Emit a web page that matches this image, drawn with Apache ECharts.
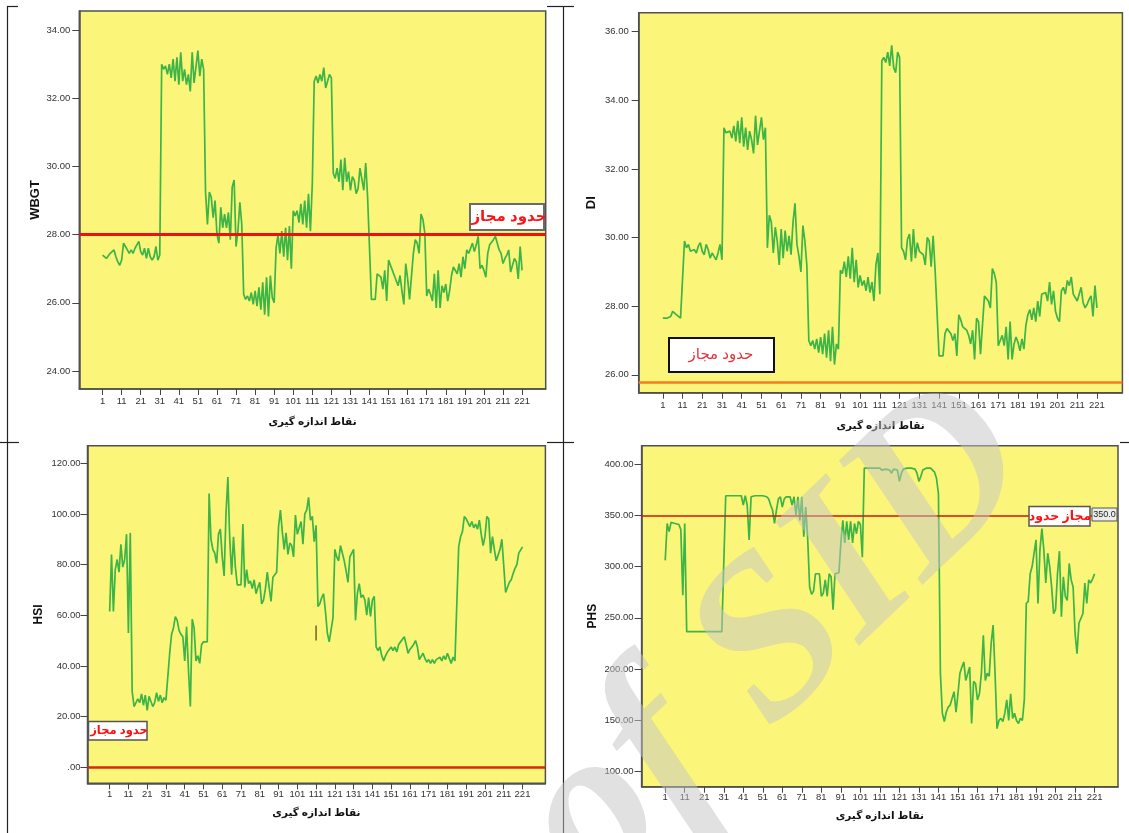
<!DOCTYPE html>
<html><head><meta charset="utf-8">
<script src="https://cdn.jsdelivr.net/npm/echarts@6/dist/echarts.min.js"></script>
<style>html,body{margin:0;padding:0;background:#fff}#c{width:1129px;height:833px}</style>
</head><body><div id="c"></div>
<script>
// ---------------- DATA ----------------
const xTicks = [1,11,21,31,41,51,61,71,81,91,101,111,121,131,141,151,161,171,181,191,201,211,221];
const wbgtTicks = [24,26,28,30,32,34];
const diTicks = [26,28,30,32,34,36];
const hsiTicks = [0,20,40,60,80,100,120];
const phsTicks = [100,150,200,250,300,350,400];

const wbgtLimit = 28;
const diLimit = 25.78;
const hsiLimit = 0;
const phsLimit = 350;
const limitText = 'حدود مجاز';
const limitTextPhs = 'مجاز حدود';
const phsLimitTag = '350.0';
const xName = 'نقاط اندازه گیری';

const wbgt = [
27.40,27.35,27.30,27.30,27.45,27.40,27.55,27.35,27.20,27.10,
27.25,27.75,27.65,27.55,27.45,27.55,27.45,27.60,27.70,27.80,
27.50,27.40,27.60,27.30,27.60,27.35,27.25,27.35,27.65,27.25,
27.40,33.00,32.85,32.95,32.70,33.00,32.60,33.15,32.50,33.20,
32.40,33.35,32.50,32.85,32.40,32.70,32.20,33.35,32.45,32.50,
33.40,32.65,33.15,32.85,29.25,28.30,29.25,29.10,28.50,29.00,
28.00,27.75,28.80,28.20,28.60,28.20,28.65,27.85,29.40,29.60,
27.65,28.10,28.95,28.30,26.25,26.10,26.20,26.05,26.30,25.95,
26.35,25.90,26.45,25.80,26.60,25.65,26.75,25.60,26.80,26.15,
26.00,27.60,28.00,27.45,28.10,27.35,28.20,27.25,28.25,27.00,
28.70,28.55,28.70,28.35,28.90,28.30,29.00,28.20,29.20,28.10,
29.50,32.50,32.65,32.45,32.70,32.50,32.90,32.30,32.25,32.70,
32.60,29.80,29.65,29.95,29.55,30.20,29.30,30.25,29.55,29.85,
29.30,29.70,29.60,29.20,29.35,29.95,30.00,29.30,30.10,29.10,
29.05,26.10,26.10,26.10,26.85,26.90,26.75,26.40,26.95,26.05,
27.25,27.10,26.95,26.80,26.75,26.50,26.80,26.35,25.95,27.15,
26.70,26.10,26.10,27.45,27.85,27.75,27.45,28.60,28.45,28.05,
26.20,26.40,26.25,26.05,26.85,25.85,26.95,25.85,26.50,26.30,
26.55,26.05,26.35,26.80,27.05,27.00,26.85,27.15,26.75,27.35,
27.00,27.55,27.45,27.60,27.75,27.50,27.70,27.95,27.00,27.10,
26.95,26.75,27.45,27.70,27.65,27.85,27.95,27.90,27.55,27.45,
27.15,27.30,27.40,27.55,26.90,27.10,27.30,27.20,26.70,27.65,
26.95];

const di = [
27.65,27.70,27.65,27.60,27.70,27.85,27.85,27.75,27.70,27.65,
27.65,29.90,29.70,29.80,29.60,29.55,29.65,29.55,29.75,29.85,
29.60,29.50,29.80,29.65,29.40,29.55,29.45,29.35,29.55,29.80,
29.35,33.20,33.05,33.00,33.10,32.90,33.25,32.80,33.40,32.75,
33.50,32.65,33.20,32.55,33.10,32.85,32.45,33.55,32.70,32.75,
33.50,32.85,33.20,29.70,30.65,30.45,29.55,30.30,29.90,29.20,
30.25,29.40,30.20,29.60,30.05,29.50,30.45,31.00,29.80,29.45,
29.00,30.35,29.90,29.20,27.00,26.85,27.00,26.75,27.05,26.65,
27.10,26.60,27.20,26.50,27.30,26.40,27.40,26.30,26.90,26.75,
29.05,28.95,29.30,28.85,29.45,28.80,29.70,28.70,29.35,28.55,
28.90,28.60,28.75,28.45,28.85,28.40,28.70,28.15,29.20,29.55,
28.35,35.15,35.25,35.10,35.40,35.00,35.60,34.95,34.80,35.40,
35.25,29.70,29.60,29.35,29.95,30.10,29.30,30.25,29.40,29.85,
29.60,29.65,29.50,29.20,30.00,29.90,29.15,30.05,29.05,29.05,
26.55,26.55,26.55,27.20,27.35,27.30,27.20,27.00,27.20,26.55,
27.75,27.60,27.40,27.35,27.30,27.15,26.90,27.30,26.45,27.65,
27.55,26.60,26.60,28.30,28.35,28.15,27.95,29.10,28.95,28.70,
26.85,27.00,27.15,26.85,27.40,26.45,27.55,26.45,26.90,27.10,
26.95,26.70,27.05,26.75,27.45,27.75,27.90,27.60,27.95,27.55,
28.15,27.70,28.35,28.30,28.40,28.15,28.70,28.05,28.45,27.85,
27.65,27.55,28.45,28.55,28.35,28.75,28.60,28.85,28.35,28.30,
28.15,28.35,28.55,28.10,27.95,28.05,28.20,28.30,27.70,28.60,
27.95];

const hsi = [
61.5,84.0,61.5,78.0,82.0,77.0,88.0,79.0,82.0,92.0,
53.0,92.5,30.0,24.0,24.5,27.0,25.5,29.0,24.5,28.5,
22.5,28.0,26.0,24.0,25.5,29.5,26.0,28.5,25.5,27.5,
26.5,27.0,45.0,52.5,55.0,59.5,58.0,54.0,52.5,51.5,
42.0,55.5,38.5,24.0,58.5,55.0,42.0,44.0,41.0,48.5,
49.5,50.0,49.5,108.0,90.0,86.0,84.5,80.5,92.0,94.0,
83.0,75.5,100.0,114.5,90.0,76.0,91.0,79.0,72.0,71.5,
72.0,96.0,71.0,78.0,72.5,73.5,70.5,74.0,68.5,71.0,
73.0,64.5,66.0,70.5,77.0,71.0,65.5,75.0,75.5,77.0,
95.0,101.5,93.0,86.0,92.5,84.0,88.5,87.5,83.0,99.5,
92.0,91.5,97.0,88.0,100.0,101.5,106.5,97.5,99.0,89.0,
95.5,63.5,64.5,67.0,68.5,61.5,53.0,49.5,50.0,59.0,
86.0,83.0,81.5,87.5,88.0,81.5,77.5,73.0,83.0,84.5,
86.0,58.0,68.5,72.5,67.0,68.0,66.0,60.0,67.0,59.5,
66.0,67.5,47.5,46.0,47.5,44.0,42.0,44.0,45.5,46.5,
47.5,46.0,47.5,45.5,48.5,49.5,49.0,51.5,48.5,45.0,
46.5,47.5,48.5,50.0,47.5,42.5,43.0,45.0,43.0,41.5,
42.5,41.0,42.5,41.0,42.5,42.0,43.5,42.0,44.0,42.5,
45.0,43.0,41.0,43.5,42.0,41.5,87.0,91.0,93.0,99.0,
98.0,96.5,95.0,97.0,94.5,96.0,94.0,97.5,92.0,87.5,
91.0,99.0,98.0,84.5,91.0,86.0,81.5,82.0,86.0,90.0,
90.5,69.0,68.5,73.0,74.0,76.5,78.5,80.0,84.5,84.0,
87.0];
const hsiMarkPoint = 111;
const hsiMarkRange = [50, 56];

const phs = [
306,342,334,343,342,342,342,341,336,272,
342,236.5,236.5,236.5,236.5,236.5,236.5,236.5,236.5,236.5,
236.5,236.5,236.5,236.5,236.5,236.5,236.5,236.5,236.5,236.5,
236.5,369,369,369,369,369,369,369,369,369,
360,369,360,326,368,369,369,368,369,369,
369,369,368,366,360,355,342,355,366,368,
358,366,368,369,368,360,368,350,368,345,
368,329,358,327,280,273,276,293,293,293,
271,274,287,271,293,290,258,293,293,294,
323,345,323,344,326,344,323,342,332,344,
341,309,396,396,396,396,396,396,396,396,
396,394,395,395,395,394,391,395,395,394,
383,391,395,396,396,396,396,396,395,391,
383,388,394,395,396,395,396,396,392,386,
371,196,157,149,158,163,165,166,178,158,
176,196,202,207,189,188,202,147,188,186,
170,176,196,233,189,196,193,225,243,196,
142,150,152,149,157,170,150,176,152,157,
150,147,152,150,170,264,266,293,300,313,
326,264,316,337,316,284,313,300,280,254,
258,293,315,251,290,271,267,303,287,280,
235,215,245,246,254,284,264,287,284,288,
293];

// ---------------- STYLE / LAYOUT ----------------
const FONT = 'Arial, "Liberation Sans", "DejaVu Sans", sans-serif';
const YELLOW = '#fbf67a';
const GREEN = '#3cb446';
const FRAME = '#505050';

const panels = [
  {grid:{left:79.3, top:11, width:466.4, height:378}, xMin:-11.2, xMax:233.4, yMin:23.47, yMax:34.56, ticks:wbgtTicks, name:'WBGT', nameSize:13, yGap:37, yMargin:9, xMargin:7, xNameGap:28, data:wbgt, limit:wbgtLimit, limitColor:'#ee1111', limitWidth:3},
  {grid:{left:638.7, top:12.7, width:483.7, height:380}, xMin:-11.2, xMax:233.9, yMin:25.48, yMax:36.55, ticks:diTicks, name:'DI', nameSize:13, yGap:41, yMargin:10, xMargin:8, xNameGap:28, data:di, limit:diLimit, limitColor:'#f47a20', limitWidth:2.5},
  {grid:{left:87.5, top:445.7, width:457.9, height:337.6}, xMin:-10.8, xMax:233.2, yMin:-6.3, yMax:126.9, ticks:hsiTicks, name:'HSI', nameSize:12, yGap:43, yMargin:7, xMargin:6, xNameGap:24, data:hsi, limit:hsiLimit, limitColor:'#d42a10', limitWidth:2.5},
  {grid:{left:641.6, top:445.7, width:476.4, height:341}, xMin:-11.1, xMax:233, yMin:85.4, yMax:417.8, ticks:phsTicks, name:'PHS', nameSize:12, yGap:43, yMargin:8, xMargin:6, xNameGap:24, data:phs, limit:phsLimit, limitColor:'#cc1414', limitWidth:1.6}
];

const fmtY = v => (v === 0 ? '.00' : v.toFixed(2));

const option = {
  animation:false,
  backgroundColor:'#ffffff',
  grid: panels.map(p => Object.assign({show:true, backgroundColor:YELLOW, borderColor:FRAME, borderWidth:1.5, containLabel:false}, p.grid)),
  xAxis: panels.map((p,i) => ({
    type:'value', gridIndex:i, min:p.xMin, max:p.xMax,
    name:xName, nameLocation:'middle', nameGap:p.xNameGap,
    nameTextStyle:{fontFamily:FONT, fontWeight:'bold', fontSize:10.5, color:'#111'},
    axisLine:{show:true, onZero:false, lineStyle:{color:FRAME, width:1.5}},
    axisTick:{show:true, length:6, customValues:xTicks, lineStyle:{color:'#444', width:1}},
    axisLabel:{show:true, customValues:xTicks, margin:p.xMargin, fontFamily:FONT, fontSize:9.5, color:'#333', formatter:v=>String(v)},
    splitLine:{show:false}
  })),
  yAxis: panels.map((p,i) => ({
    type:'value', gridIndex:i, min:p.yMin, max:p.yMax,
    name:p.name, nameLocation:'middle', nameGap:p.yGap, nameRotate:90,
    nameTextStyle:{fontFamily:FONT, fontWeight:'bold', fontSize:p.nameSize, color:'#111'},
    axisLine:{show:true, onZero:false, lineStyle:{color:FRAME, width:1.5}},
    axisTick:{show:true, length:7, customValues:p.ticks, lineStyle:{color:'#444', width:1}},
    axisLabel:{show:true, customValues:p.ticks, margin:p.yMargin, fontFamily:FONT, fontSize:9.5, color:'#333', formatter:fmtY},
    splitLine:{show:false}
  })),
  series: panels.map((p,i) => ({
    type:'line', xAxisIndex:i, yAxisIndex:i,
    data:p.data.map((v,k)=>[k+1, v]),
    symbol:'none', smooth:false, z:3,
    lineStyle:{color:GREEN, width:1.7},
    markLine:{silent:true, symbol:'none', animation:false, z:4,
      label:{show:false},
      lineStyle:{color:p.limitColor, width:p.limitWidth, type:'solid'},
      data:[{yAxis:p.limit}]}
  })).concat([{
    type:'line', xAxisIndex:2, yAxisIndex:2, symbol:'none', z:4,
    lineStyle:{color:'#6e6224', width:1.5},
    data:[[hsiMarkPoint, hsiMarkRange[0]],[hsiMarkPoint, hsiMarkRange[1]]]
  }]),
  graphic: [
    // table frame fragments
    {type:'line', shape:{x1:7.5,y1:6,x2:7.5,y2:833}, style:{stroke:'#222', lineWidth:1.2}, z:50},
    {type:'line', shape:{x1:563.5,y1:6,x2:563.5,y2:833}, style:{stroke:'#222', lineWidth:1.2}, z:50},
    {type:'line', shape:{x1:7,y1:6.5,x2:18,y2:6.5}, style:{stroke:'#222', lineWidth:1.2}, z:50},
    {type:'line', shape:{x1:547,y1:6.5,x2:574,y2:6.5}, style:{stroke:'#222', lineWidth:1.2}, z:50},
    {type:'line', shape:{x1:0,y1:442.5,x2:19,y2:442.5}, style:{stroke:'#222', lineWidth:1.2}, z:50},
    {type:'line', shape:{x1:547,y1:442.5,x2:574,y2:442.5}, style:{stroke:'#222', lineWidth:1.2}, z:50},
    {type:'line', shape:{x1:1120,y1:442.5,x2:1129,y2:442.5}, style:{stroke:'#222', lineWidth:1.2}, z:50},
    // limit label boxes
    {type:'rect', shape:{x:470, y:204, width:74, height:26}, style:{fill:'#ffffff', stroke:'#6a6a6a', lineWidth:2}, z:60},
    {type:'text', x:509, y:217, style:{text:limitText, font:'bold 15px '+FONT, fill:'#ff1414', textAlign:'center', textVerticalAlign:'middle'}, z:61},
    {type:'rect', shape:{x:669, y:338, width:105, height:34}, style:{fill:'#ffffff', stroke:'#111', lineWidth:2}, z:60},
    {type:'text', x:721, y:355, style:{text:limitText, font:'15px '+FONT, fill:'#e0353d', textAlign:'center', textVerticalAlign:'middle'}, z:61},
    {type:'rect', shape:{x:88.5, y:721.5, width:58.5, height:18.5}, style:{fill:'#ffffff', stroke:'#555', lineWidth:1.5}, z:60},
    {type:'text', x:119, y:731, style:{text:limitText, font:'bold 11.5px '+FONT, fill:'#ff1010', textAlign:'center', textVerticalAlign:'middle'}, z:61},
    {type:'rect', shape:{x:1029, y:506.5, width:61, height:19.5}, style:{fill:'#ffffff', stroke:'#555', lineWidth:1.5}, z:60},
    {type:'text', x:1060, y:516.5, style:{text:limitTextPhs, font:'bold 12.5px '+FONT, fill:'#ff1010', textAlign:'center', textVerticalAlign:'middle'}, z:61},
    {type:'rect', shape:{x:1092, y:508, width:25, height:13}, style:{fill:'#ececec', stroke:'#555', lineWidth:1}, z:60},
    {type:'text', x:1104.5, y:514.5, style:{text:phsLimitTag, font:'9px '+FONT, fill:'#222', textAlign:'center', textVerticalAlign:'middle'}, z:61},
    // watermark
    {type:'group', x:632, y:939, rotation:0.765, z:100, children:[
      {type:'text', x:0, y:0, style:{text:'of SID', font:'italic bold 225px "Liberation Serif", "DejaVu Serif", serif', fill:'rgba(195,195,195,0.5)', textAlign:'left', textVerticalAlign:'bottom'}, z:100}
    ]}
  ]
};

const chart = echarts.init(document.getElementById('c'), null, {renderer:'canvas'});
chart.setOption(option);
</script>
</body></html>
